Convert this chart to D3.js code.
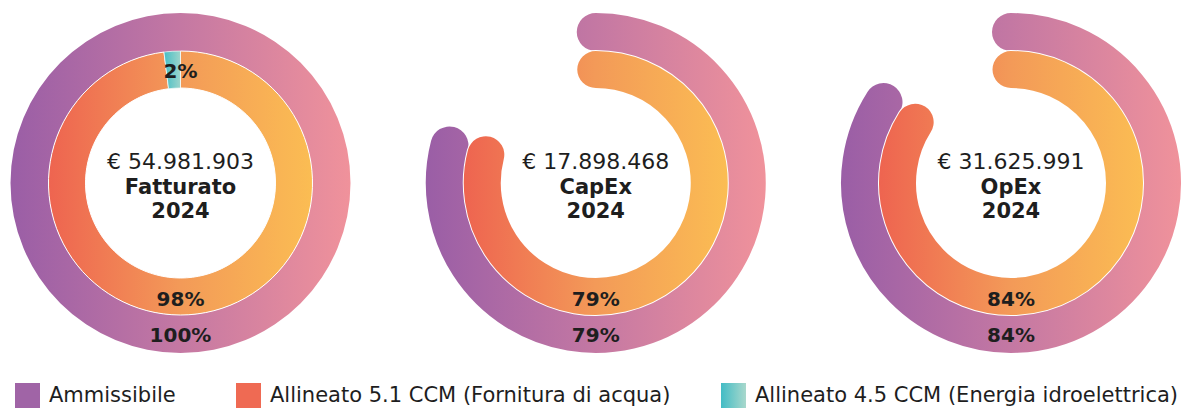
<!DOCTYPE html>
<html>
<head>
<meta charset="utf-8">
<script src="https://cdn.jsdelivr.net/npm/d3@7"></script>
<style>
  html, body { margin: 0; padding: 0; background: #fff; }
  svg { display: block; }
  text { font-family: "DejaVu Sans", sans-serif; fill: #1e1e1e; }
</style>
</head>
<body>
<svg id="chart" width="1190" height="408"></svg>
<script>
// ---- data ----
const charts = ["Fatturato", "CapEx", "OpEx"];
const amounts = ["€ 54.981.903", "€ 17.898.468", "€ 31.625.991"];
const years = ["2024", "2024", "2024"];
const ammissibile = [100, 79, 84];
const allineato51 = [98, 79, 84];
const allineato45 = [2, 0, 0];
const legendLabels = [
  "Ammissibile",
  "Allineato 5.1 CCM (Fornitura di acqua)",
  "Allineato 4.5 CCM (Energia idroelettrica)"
];

// ---- layout ----
const svg = d3.select("#chart");
const cy = 183;
const xCenter = d3.scalePoint().domain(charts).range([180.5, 1011]);
const angle = d3.scaleLinear().domain([0, 100]).range([0, 2 * Math.PI]);
const outerR = [132, 170];
const innerR = [95, 132];
const outerMid = (outerR[0] + outerR[1]) / 2;
const innerMid = (innerR[0] + innerR[1]) / 2;
const outerW = outerR[1] - outerR[0];
const innerW = innerR[1] - innerR[0];

const defs = svg.append("defs");
function grad(id, x1, x2, stops) {
  const g = defs.append("linearGradient").attr("id", id)
    .attr("gradientUnits", "userSpaceOnUse")
    .attr("x1", x1).attr("x2", x2).attr("y1", 0).attr("y2", 0);
  stops.forEach((c, i) => g.append("stop")
    .attr("offset", i / (stops.length - 1)).attr("stop-color", c));
}
const purpleStops = ["#9a5ea6", "#c478a3", "#f0929b"];
const orangeStops = ["#ee6450", "#f39a58", "#fbbd53"];
const tealStops = ["#3dbcc5", "#a8d7cc"];

// gradients in local (translated) coordinates, centered on 0
grad("gOut", -outerR[1], outerR[1], purpleStops);
grad("gIn", -innerR[1], innerR[1], orangeStops);
grad("gTeal", -18, 2, tealStops);

function arcLine(r, a0, a1) {
  const p = d3.path();
  p.arc(0, 0, r, a0 - Math.PI / 2, a1 - Math.PI / 2, false);
  return p.toString();
}

const arcO = d3.arc().innerRadius(outerR[0]).outerRadius(outerR[1]);
const arcI = d3.arc().innerRadius(innerR[0]).outerRadius(innerR[1]);

charts.forEach((name, i) => {
  const cx = xCenter(name);
  const g = svg.append("g").attr("transform", `translate(${cx},${cy})`);

  const full = ammissibile[i] >= 100;
  if (full) {
    const a51 = angle(allineato51[i]);
    const a45 = angle(allineato51[i] + allineato45[i]);
    g.append("path")
      .attr("d", arcO({ startAngle: 0, endAngle: angle(ammissibile[i]) }))
      .attr("fill", "url(#gOut)");
    g.append("path")
      .attr("d", arcI({ startAngle: 0, endAngle: a51 }))
      .attr("fill", "url(#gIn)")
      .attr("stroke", "#fff").attr("stroke-width", 1);
    if (allineato45[i] > 0) {
      g.append("path")
        .attr("d", arcI({ startAngle: a51, endAngle: a45 }))
        .attr("fill", "url(#gTeal)")
        .attr("stroke", "#fff").attr("stroke-width", 0.6);
    }
  } else {
    g.append("path")
      .attr("d", arcLine(outerMid, 0, angle(ammissibile[i])))
      .attr("fill", "none")
      .attr("stroke", "url(#gOut)")
      .attr("stroke-width", outerW)
      .attr("stroke-linecap", "round");
    g.append("path")
      .attr("d", arcLine(innerMid, 0, angle(allineato51[i])))
      .attr("fill", "none")
      .attr("stroke", "#fff")
      .attr("stroke-width", innerW + 2)
      .attr("stroke-linecap", "round");
    g.append("path")
      .attr("d", arcLine(innerMid, 0, angle(allineato51[i])))
      .attr("fill", "none")
      .attr("stroke", "url(#gIn)")
      .attr("stroke-width", innerW)
      .attr("stroke-linecap", "round");
  }

  // percentage labels
  g.append("text").attr("x", 0).attr("y", innerMid + 9)
    .attr("text-anchor", "middle").attr("font-weight", "bold").attr("font-size", 20)
    .text(allineato51[i] + "%");
  g.append("text").attr("x", 0).attr("y", outerMid + 8)
    .attr("text-anchor", "middle").attr("font-weight", "bold").attr("font-size", 20)
    .text(ammissibile[i] + "%");
  if (allineato45[i] > 0) {
    g.append("text").attr("x", 0).attr("y", -innerMid + 8.5)
      .attr("text-anchor", "middle").attr("font-weight", "bold").attr("font-size", 20)
      .text(allineato45[i] + "%");
  }

  // center text
  g.append("text").attr("x", 0).attr("y", -14)
    .attr("text-anchor", "middle").attr("font-size", 22)
    .text(amounts[i]);
  g.append("text").attr("x", 0).attr("y", 11)
    .attr("text-anchor", "middle").attr("font-size", 21).attr("font-weight", "bold")
    .text(name);
  g.append("text").attr("x", 0).attr("y", 35)
    .attr("text-anchor", "middle").attr("font-size", 21).attr("font-weight", "bold")
    .text(years[i]);
});

// ---- legend ----
const legendX = [15, 236, 721];
const legFills = ["#a064a6", "#ef6a53", "url(#gLegTeal)"];
const lg = defs.append("linearGradient").attr("id", "gLegTeal")
  .attr("x1", 0).attr("x2", 1).attr("y1", 0).attr("y2", 0);
lg.append("stop").attr("offset", 0).attr("stop-color", "#42bcc5");
lg.append("stop").attr("offset", 1).attr("stop-color", "#a9d8cc");
const legend = svg.append("g").selectAll("g").data(legendLabels).join("g")
  .attr("transform", (d, i) => `translate(${legendX[i]},383)`);
legend.append("rect").attr("width", 25).attr("height", 25)
  .attr("fill", (d, i) => legFills[i]);
legend.append("text").attr("x", 34).attr("y", 19)
  .attr("font-size", 21).text(d => d);
</script>
</body>
</html>
